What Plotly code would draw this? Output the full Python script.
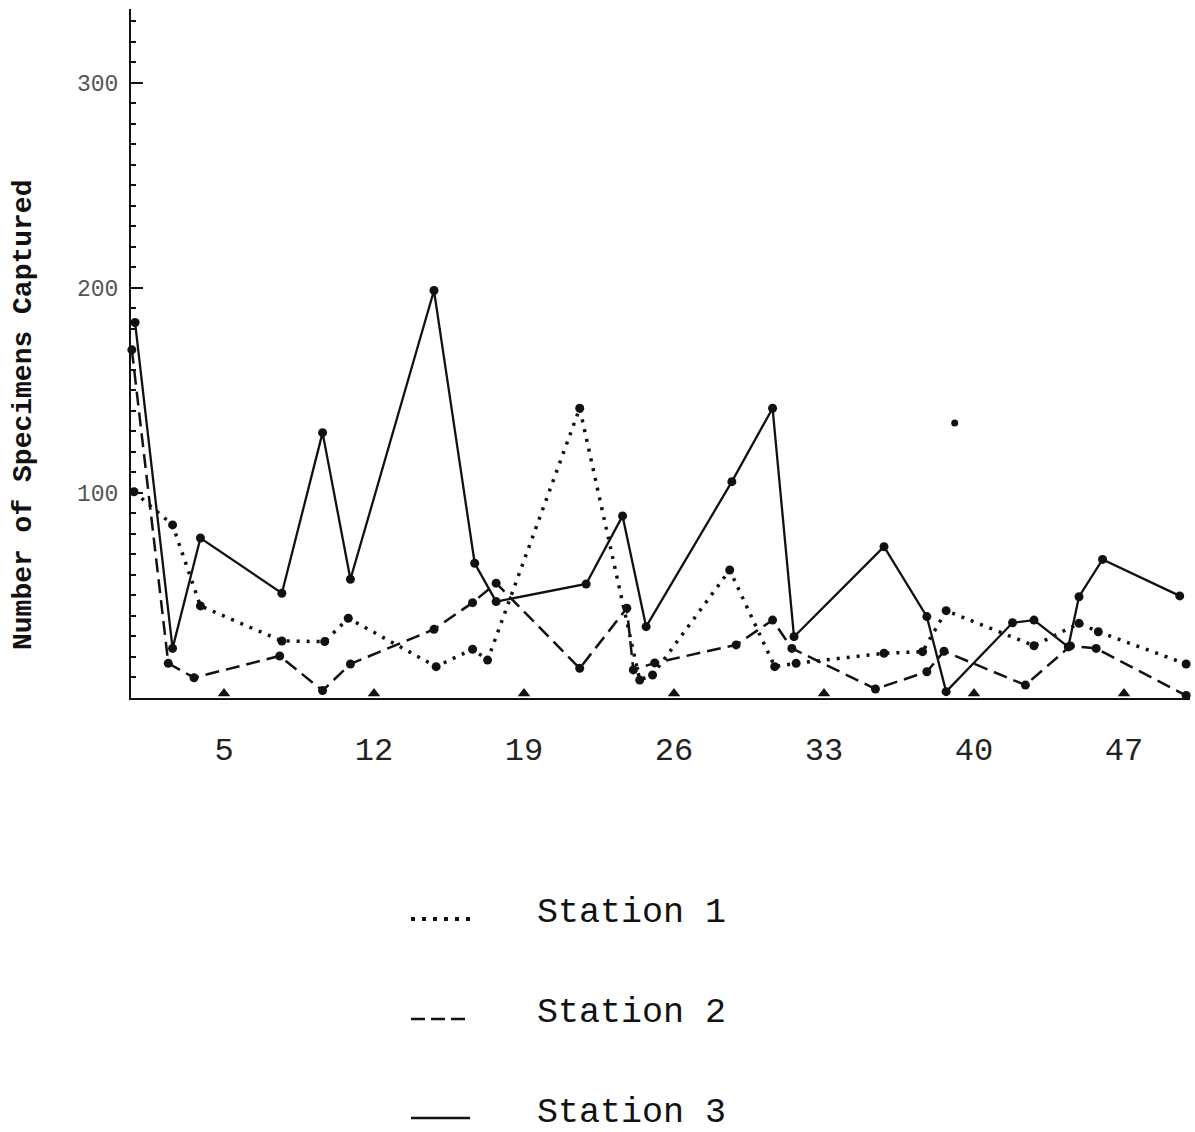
import plotly.graph_objects as go

# Day of sampling and number of specimens captured at each station
station1_day = [0.8, 2.6, 3.9, 7.7, 9.7, 10.8, 14.9, 16.6, 17.3, 21.6, 24.4, 25.0,
                28.6, 30.7, 31.7, 35.8, 37.6, 38.7, 42.8, 44.9, 45.8, 49.9]
station1_count = [100.6, 84.4, 44.9, 27.8, 27.5, 38.9, 15.3, 23.8, 18.5, 141.3, 8.8, 11.2,
                  62.4, 15.3, 16.9, 21.8, 22.6, 42.6, 25.5, 36.4, 32.3, 16.6]

station2_day = [0.7, 2.4, 3.6, 7.6, 9.6, 10.9, 14.8, 16.6, 17.7, 21.6, 23.8, 24.1, 25.1,
                28.9, 30.6, 31.5, 35.4, 37.8, 38.6, 42.4, 44.5, 45.7, 49.9]
station2_count = [169.8, 16.9, 9.9, 20.5, 3.6, 16.6, 33.5, 46.5, 56.0, 14.5, 43.8, 13.7, 17.1,
                  25.9, 38.0, 24.2, 4.4, 12.8, 22.8, 6.3, 25.4, 24.2, 1.2]

station3_day = [0.85, 2.6, 3.9, 7.7, 9.6, 10.9, 14.8, 16.7, 17.7, 21.9, 23.6, 24.7,
                28.7, 30.6, 31.6, 35.8, 37.8, 38.7, 41.8, 42.8, 44.4, 44.9, 46.0, 49.6]
station3_count = [183.1, 24.2, 78.0, 51.1, 129.4, 57.9, 198.7, 65.7, 47.0, 55.6, 88.8, 34.8,
                  105.5, 141.3, 29.9, 73.8, 39.7, 3.1, 36.7, 38.0, 24.9, 49.4, 67.6, 49.8]

# A single unconnected count plotted on its own
loose_day = [39.1]
loose_count = [134.1]

x_tick_days = [5, 12, 19, 26, 33, 40, 47]
x_tick_labels = ["5", "12", "19", "26", "33", "40", "47"]
y_tick_values = [100, 200, 300]
y_tick_labels = ["100", "200", "300"]

y_title = "Number of Specimens Captured"
legend_labels = ["Station 1", "Station 2", "Station 3"]

INK = "#111111"
FONT = "Liberation Mono"
DOT = "3px,7px"
DASH = "14px,7px"

# plot-area geometry in pixels
W, H = 1195, 1132
L, R, T, B = 131, 5, 9, 434
PW, PH = W - L - R, H - T - B


def px_to_paper(px, py):
    return (px - L) / PW, (H - B - py) / PH


fig = go.Figure()

series = [
    (station1_day, station1_count, dict(width=3.5, dash=DOT), legend_labels[0]),
    (station2_day, station2_count, dict(width=2.5, dash=DASH), legend_labels[1]),
    (station3_day, station3_count, dict(width=2.3, dash="solid"), legend_labels[2]),
]
for days, counts, line, name in series:
    fig.add_trace(go.Scatter(
        x=days, y=counts, name=name, mode="lines+markers",
        line=dict(color=INK, **line),
        marker=dict(color=INK, size=9, symbol="circle"),
        cliponaxis=False, showlegend=False,
    ))

fig.add_trace(go.Scatter(
    x=loose_day, y=loose_count, mode="markers",
    marker=dict(color=INK, size=7, symbol="circle"),
    cliponaxis=False, showlegend=False,
))

# small triangular tick marks resting on the horizontal axis
TICK_LIFT = 2.2
fig.add_trace(go.Scatter(
    x=x_tick_days, y=[TICK_LIFT] * len(x_tick_days), mode="markers",
    marker=dict(color=INK, size=11, symbol="triangle-up"),
    cliponaxis=False, showlegend=False, hoverinfo="skip",
))

# hand-made key below the chart
key_rows = [
    (919, 913, dict(width=4, dash="4px,7px")),
    (1019, 1013, dict(width=2.5, dash="14px,6px")),
    (1118, 1113, dict(width=2.5, dash="solid")),
]
for (line_y, text_y, line), label in zip(key_rows, legend_labels):
    x0, y0 = px_to_paper(411, line_y)
    x1, _ = px_to_paper(470, line_y)
    fig.add_shape(type="line", xref="paper", yref="paper",
                  x0=x0, x1=x1, y0=y0, y1=y0,
                  line=dict(color=INK, **line))
    tx, ty = px_to_paper(535, text_y)
    fig.add_annotation(xref="paper", yref="paper", x=tx, y=ty,
                       text=label, showarrow=False,
                       xanchor="left", yanchor="middle",
                       font=dict(family=FONT, size=35, color=INK))

# vertical axis title
tx, ty = px_to_paper(23, 415)
fig.add_annotation(xref="paper", yref="paper", x=tx, y=ty,
                   text="<b>" + y_title + "</b>", showarrow=False, textangle=-90,
                   xanchor="center", yanchor="middle",
                   font=dict(family=FONT, size=28, color=INK))

fig.update_layout(
    width=W, height=H,
    margin=dict(l=L, r=R, t=T, b=B),
    paper_bgcolor="white", plot_bgcolor="white",
    showlegend=False,
    xaxis=dict(
        range=[0.66, 50.08], showgrid=False, zeroline=False,
        showline=True, linecolor=INK, linewidth=2,
        tickmode="array", tickvals=x_tick_days, ticktext=x_tick_labels,
        ticks="", ticklabelstandoff=22,
        tickfont=dict(family=FONT, size=32, color="#222222"),
    ),
    yaxis=dict(
        range=[0, 336], showgrid=False, zeroline=False,
        showline=True, linecolor=INK, linewidth=2,
        tickmode="array", tickvals=y_tick_values, ticktext=y_tick_labels,
        ticks="inside", ticklen=12, tickwidth=2, tickcolor=INK,
        minor=dict(dtick=10, ticks="inside", ticklen=5, tickwidth=1.5, tickcolor=INK),
        ticklabelstandoff=6,
        tickfont=dict(family=FONT, size=23, color="#555555"),
    ),
)

fig.write_html("out.html")
